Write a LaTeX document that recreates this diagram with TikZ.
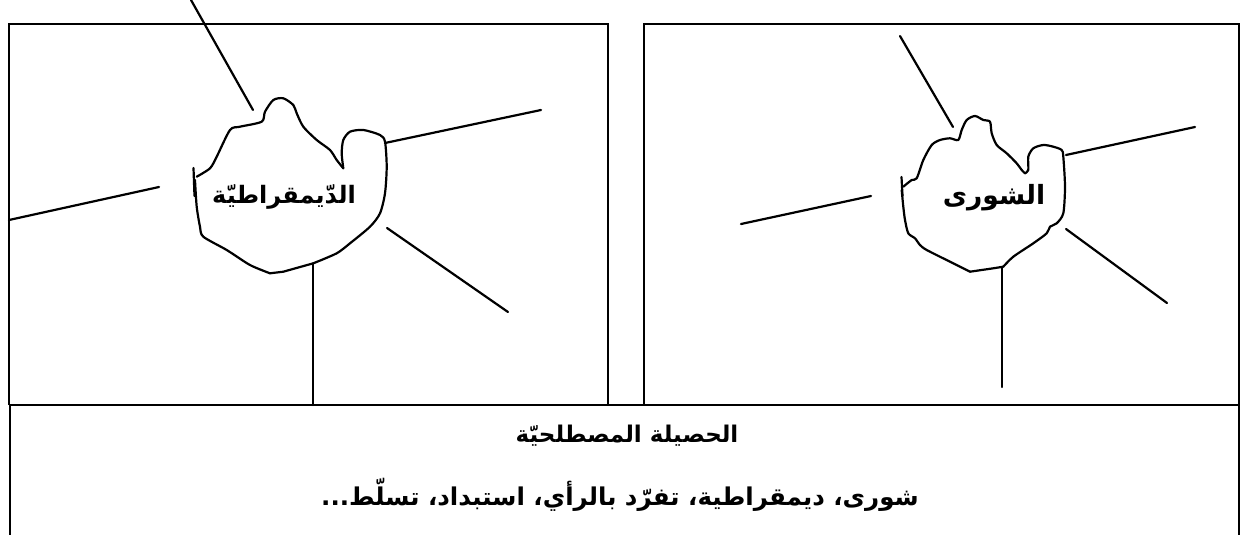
\documentclass[tikz,border=0pt]{standalone}
\usepackage{fontspec}
\newfontfamily\arabicfont[Script=Arabic]{DejaVu Sans}
\TeXXeTstate=1
\tikzset{
  frame/.style={line width=1.8pt},
  ray/.style={line width=2.2pt, line cap=round},
  blob/.style={line width=2.2pt, line join=round, line cap=round},
  bloblabel/.style={inner sep=0pt, font=\arabicfont\bfseries\fontsize{24}{30}\selectfont},
  bigblablabel/.style={inner sep=0pt, font=\arabicfont\bfseries\fontsize{26.5}{30}\selectfont},
  titletext/.style={inner sep=0pt, font=\arabicfont\bfseries\fontsize{23}{28}\selectfont},
  termtext/.style={inner sep=0pt, font=\arabicfont\bfseries\fontsize{24.5}{30}\selectfont}
}
\begin{document}
\begin{tikzpicture}[x=1pt, y=-1pt]
\useasboundingbox (0,0) rectangle (1240,535);
% frames
\draw[frame] (9,405) -- (9,24) -- (608,24) -- (608,405);
\draw[frame] (644,405) -- (644,24) -- (1239,24) -- (1239,535);
\draw[frame] (10,540) -- (10,405) -- (1239,405);

% left blob
\draw[blob] plot[smooth, tension=0.45] coordinates {(196.7,176.7) (210,168.3) (216.7,156.7) (230,130) (240,126.7) (261.7,121.7) (265,111.7) (273.3,100) (283.3,98.3) (293.3,105) (296.7,113.3) (303.3,126.7) (316.7,140) (330,150) (336.7,160) (343.3,168.3)};
\draw[blob] plot[smooth, tension=0.45] coordinates {(343.3,168.3) (341.7,153.3) (343.3,140) (350,131.7) (363.3,130) (380,135) (385,141.7) (386.7,166.7) (385,193.3) (380,213.3) (370,226.7) (350,243.3) (336.7,253.3) (313.3,263.3)};
\draw[blob] (313.3,263.3) -- (283.3,271.7) -- (270,273.3);
\draw[blob] plot[smooth, tension=0.45] coordinates {(270,273.3) (250,265) (226.7,250) (203.3,236.7) (200,226.7) (196.7,206.7) (195,180)};
\draw[blob] (193.5,168) -- (194.5,196);
\node[bloblabel] (demo) at (284,197) {\beginR الدّيمقراطيّة\endR};

% left rays
\coordinate (l1a) at (191,0);     \coordinate (l1b) at (253,110);
\coordinate (l2a) at (385,143);   \coordinate (l2b) at (541,110);
\coordinate (l3a) at (9,220);     \coordinate (l3b) at (159,187);
\coordinate (l4a) at (387,228);   \coordinate (l4b) at (508,312);
\coordinate (l5a) at (313,264);   \coordinate (l5b) at (313,405);
\draw[ray] (l1a) -- (l1b);
\draw[ray] (l2a) -- (l2b);
\draw[ray] (l3a) -- (l3b);
\draw[ray] (l4a) -- (l4b);
\draw[ray] (l5a) -- (l5b);

% right blob
\draw[blob] plot[smooth, tension=0.45] coordinates {(903.3,186.7) (911.7,180) (916.7,178.3) (923.3,160) (931.7,145) (940,140) (950,138.3) (958.3,140) (961.7,130) (966.7,120) (975,116) (983.3,120) (990,121.7) (991.7,133.3) (996.7,145) (1006.7,153.3) (1016.7,163.3) (1021.7,170) (1025,173.3)};
\draw[blob] plot[smooth, tension=0.45] coordinates {(1025,173.3) (1028.3,170) (1028.3,156.7) (1033.3,148.3) (1043.3,145) (1053.3,146.7) (1061.7,150) (1063.3,156.7) (1065,186.7) (1063.3,213.3) (1056.7,223.3) (1050,226.7) (1046.7,233.3) (1033.3,243.3) (1013.3,256.7) (1003.3,266.7)};
\draw[blob] (1003.3,266.7) -- (993.3,268.3) -- (970,271.7);
\draw[blob] plot[smooth, tension=0.45] coordinates {(970,271.7) (950,261.7) (926.7,250) (920,245) (915,238.3) (908.3,233.3) (905,220) (903.3,206.7) (901.7,190)};
\draw[blob] (901.5,177) -- (902.5,196);
\node[bigblablabel] (shura) at (994,198) {\beginR الشورى\endR};

% right rays
\coordinate (r1a) at (900,36);     \coordinate (r1b) at (953,127);
\coordinate (r2a) at (1066,155);   \coordinate (r2b) at (1195,127);
\coordinate (r3a) at (741,224);    \coordinate (r3b) at (871,196);
\coordinate (r4a) at (1066,229);   \coordinate (r4b) at (1167,303);
\coordinate (r5a) at (1002,267);   \coordinate (r5b) at (1002,387);
\draw[ray] (r1a) -- (r1b);
\draw[ray] (r2a) -- (r2b);
\draw[ray] (r3a) -- (r3b);
\draw[ray] (r4a) -- (r4b);
\draw[ray] (r5a) -- (r5b);

% bottom texts
\node[titletext] (title) at (627,436) {\beginR الحصيلة المصطلحيّة\endR};
\node[termtext] (terms) at (620,495) {\beginR شورى، ديمقراطية، تفرّد بالرأي، استبداد، تسلّط...\endR};
\end{tikzpicture}
\end{document}
